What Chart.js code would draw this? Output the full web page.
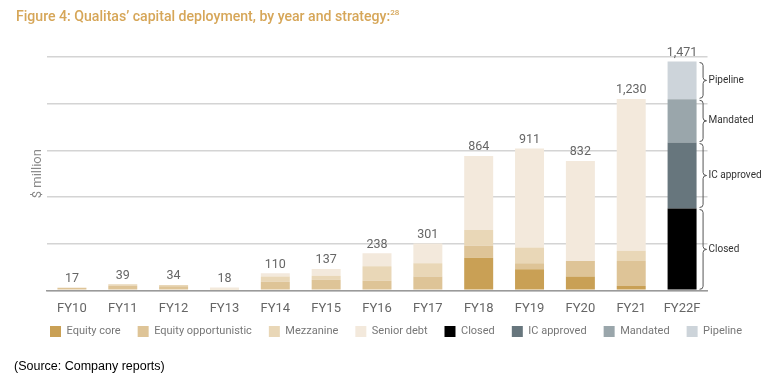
<!DOCTYPE html>
<html>
<head>
<meta charset="utf-8">
<script src="https://cdn.jsdelivr.net/npm/chart.js@4.4.1/dist/chart.umd.min.js"></script>
<style>
  html,body{margin:0;padding:0;background:#fff;}
  #wrap{position:relative;width:772px;height:383px;overflow:hidden;}
  #title{position:absolute;left:16px;top:8px;font-family:Roboto,sans-serif;font-weight:500;font-size:14.1px;color:#d6a658;white-space:nowrap;}
  #title sup{font-size:8px;vertical-align:6px;line-height:0;}
  #source{position:absolute;left:14px;top:359px;font-family:"Liberation Sans",Arial,sans-serif;font-size:12.5px;color:#000;white-space:nowrap;}
  canvas{position:absolute;left:0;top:0;}
</style>
</head>
<body>
<div id="wrap">
  <canvas id="c" width="772" height="383"></canvas>
  <div id="title">Figure 4: Qualitas’ capital deployment, by year and strategy:<sup>28</sup></div>
  <div id="source">(Source: Company reports)</div>
</div>
<script>
// ---- data ----
const categories = ['FY10','FY11','FY12','FY13','FY14','FY15','FY16','FY17','FY18','FY19','FY20','FY21','FY22F'];
const equityCore =          [0, 0, 0, 0, 0, 0, 0, 0, 210, 135, 88, 28, null];
const equityOpportunistic = [17, 30, 26, 0, 55, 68, 62, 88, 76, 39, 101, 161, null];
const mezzanine =           [0, 9, 8, 8, 33, 26, 93, 86, 101, 101, 0, 65, null];
const seniorDebt =          [0, 0, 0, 10, 22, 43, 83, 127, 477, 636, 643, 976, null];
const closed =     [null,null,null,null,null,null,null,null,null,null,null,null, 526];
const icApproved = [null,null,null,null,null,null,null,null,null,null,null,null, 424];
const mandated =   [null,null,null,null,null,null,null,null,null,null,null,null, 278];
const pipeline =   [null,null,null,null,null,null,null,null,null,null,null,null, 243];
const totalLabels = ['17','39','34','18','110','137','238','301','864','911','832','1,230','1,471'];
const yTicks = [0, 300, 600, 900, 1200, 1500];
const braceLabels = ['Closed','IC approved','Mandated','Pipeline'];

const seriesDefs = [
  ['Equity core', equityCore, '#c9a055'],
  ['Equity opportunistic', equityOpportunistic, '#dec497'],
  ['Mezzanine', mezzanine, '#e9d7b7'],
  ['Senior debt', seniorDebt, '#f3e9dc'],
  ['Closed', closed, '#000000'],
  ['IC approved', icApproved, '#67767d'],
  ['Mandated', mandated, '#9aa6ab'],
  ['Pipeline', pipeline, '#cdd4da']
];

const datasets = seriesDefs.map(([label, data, color]) => ({
  label, data, backgroundColor: color, borderWidth: 0,
  barPercentage: 0.57, categoryPercentage: 1.0, stack: 's'
}));

const totalsPlugin = {
  id: 'totals',
  afterDatasetsDraw(chart) {
    const ctx = chart.ctx;
    const xs = chart.scales.x, ys = chart.scales.y;
    ctx.save();
    ctx.font = '400 12.5px Roboto, sans-serif';
    ctx.fillStyle = '#666';
    ctx.textAlign = 'center';
    ctx.textBaseline = 'bottom';
    categories.forEach((c, i) => {
      let sum = 0;
      seriesDefs.forEach(d => { sum += (d[1][i] || 0); });
      const x = xs.getPixelForValue(i);
      const y = ys.getPixelForValue(sum);
      ctx.fillText(totalLabels[i], x, y - 2.5);
    });
    ctx.restore();
  }
};

const bracePlugin = {
  id: 'braces',
  afterDatasetsDraw(chart) {
    const ctx = chart.ctx;
    const ys = chart.scales.y;
    const i = categories.length - 1;
    const meta = chart.getDatasetMeta(4);
    const bar = meta.data[i];
    const x0 = bar.x + bar.width / 2 + 3;
    const w = 7;
    const parts = [closed[i], icApproved[i], mandated[i], pipeline[i]];
    let cum = 0;
    ctx.save();
    ctx.strokeStyle = '#555';
    ctx.lineWidth = 1;
    ctx.font = '400 10px Roboto, sans-serif';
    ctx.fillStyle = '#333';
    ctx.textAlign = 'left';
    ctx.textBaseline = 'middle';
    parts.forEach((v, k) => {
      const yb = ys.getPixelForValue(cum) - 1;
      const yt = ys.getPixelForValue(cum + v) + 1;
      cum += v;
      const ym = (yb + yt) / 2;
      const r = 3;
      const xm = x0 + w / 2;
      ctx.beginPath();
      ctx.moveTo(x0, yt);
      ctx.quadraticCurveTo(xm, yt, xm, yt + r);
      ctx.lineTo(xm, ym - r);
      ctx.quadraticCurveTo(xm, ym, x0 + w, ym);
      ctx.quadraticCurveTo(xm, ym, xm, ym + r);
      ctx.lineTo(xm, yb - r);
      ctx.quadraticCurveTo(xm, yb, x0, yb);
      ctx.stroke();
      ctx.fillText(braceLabels[k], x0 + w + 2, ym);
    });
    ctx.restore();
  }
};

// tighten the gap between the x-axis labels and the legend
const legendShift = {
  id: 'legendShift',
  afterLayout(chart) {
    if (chart.legend) { chart.legend.top -= 5.3; chart.legend.bottom -= 5.3; }
  }
};

new Chart(document.getElementById('c'), {
  type: 'bar',
  data: { labels: categories, datasets },
  plugins: [totalsPlugin, bracePlugin, legendShift],
  options: {
    responsive: false,
    animation: false,
    devicePixelRatio: 1,
    layout: { padding: { left: 20, top: 57, bottom: 30.7, right: 0 } },
    plugins: {
      legend: {
        position: 'bottom',
        labels: {
          boxWidth: 11, boxHeight: 11, padding: 17, color: '#777',
          font: { family: 'Roboto', size: 11 }
        }
      },
      tooltip: { enabled: false }
    },
    scales: {
      x: {
        stacked: true,
        grid: { display: false, drawTicks: false },
        border: { display: true, color: '#9a9a9a', width: 1.5 },
        ticks: { color: '#666', font: { family: 'Roboto', size: 13 }, padding: 10.5 },
        afterFit(s) { s.height = 24; }
      },
      y: {
        stacked: true,
        min: 0, max: 1500,
        afterBuildTicks(s) { s.ticks = yTicks.map(v => ({ value: v })); },
        ticks: { display: false },
        grid: { color: '#d4d4d4', lineWidth: 1.5, drawTicks: false },
        border: { display: false },
        title: { display: true, text: '$ million', color: '#888', font: { family: 'Roboto', size: 13 }, padding: { top: 10, bottom: 0 } },
        afterFit(s) { s.width = 26.5; }
      },
      y2: {
        position: 'right',
        display: true,
        grid: { display: false, drawTicks: false },
        ticks: { display: false },
        border: { display: false },
        afterFit(s) { s.width = 64.5; }
      }
    }
  }
});
</script>
</body>
</html>
